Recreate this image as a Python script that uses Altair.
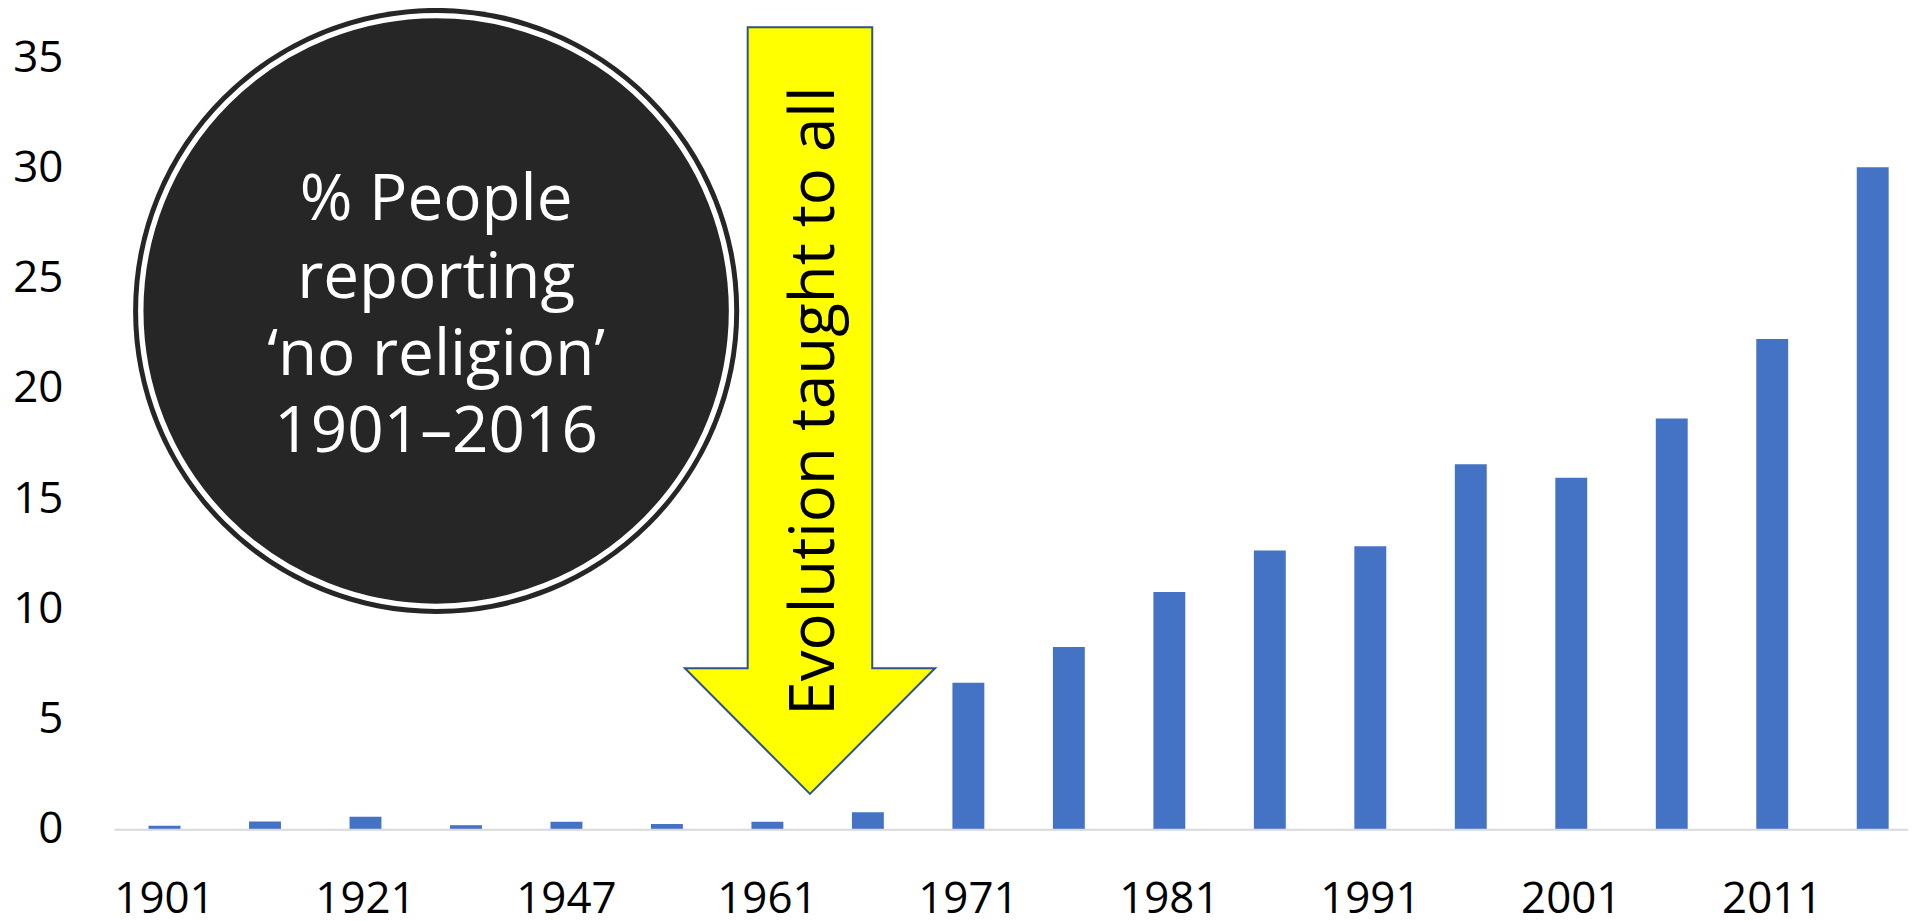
import altair as alt
import pandas as pd

# ---- data ----
years = ["1901", "1911", "1921", "1933", "1947", "1954", "1961", "1966", "1971",
         "1976", "1981", "1986", "1991", "1996", "2001", "2006", "2011", "2016"]
values = [0.18, 0.38, 0.59, 0.21, 0.37, 0.26, 0.37, 0.80, 6.67,
          8.29, 10.79, 12.67, 12.86, 16.58, 15.97, 18.66, 22.27, 30.06]
tick_years = ["1901", "1921", "1947", "1961", "1971", "1981", "1991", "2001", "2011"]
y_ticks = [0, 5, 10, 15, 20, 25, 30, 35]
title_lines = ["% People", "reporting", "\u2018no religion\u2019", "1901\u20132016"]
arrow_label = "Evolution taught to all"

W, H = 1791, 774
FONT = "Open Sans"

df = pd.DataFrame({"year": years, "pct": values})
one = pd.DataFrame({"k": [0]})

x_enc = alt.X(
    "year:N", sort=years,
    scale=alt.Scale(paddingInner=0.6825, paddingOuter=0.2253, align=0.749),
    axis=alt.Axis(values=tick_years, labelAngle=0, labelFontSize=44, labelFont=FONT,
                  labelColor="black", labelPadding=48, ticks=False, tickSize=0,
                  domain=False, grid=False, title=None),
)
y_enc = alt.Y(
    "pct:Q",
    scale=alt.Scale(domain=[0, 35], nice=False, zero=True),
    axis=alt.Axis(values=y_ticks, labelFontSize=44, labelFont=FONT, labelColor="black",
                  labelPadding=52, ticks=False, tickSize=0, domain=False, grid=False,
                  title=None),
)

bars = alt.Chart(df).mark_bar(color="#4472C4").encode(x=x_enc, y=y_enc)

baseline = alt.Chart(one).mark_rule(color="#D9D9D9", strokeWidth=2).encode(
    y=alt.datum(0), x=alt.value(0), x2=alt.value(W + 8)
)

# annotation: dark circle badge
circle = alt.Chart(one).mark_point(
    shape="circle", size=608 ** 2, filled=True, fill="#262626", strokeWidth=0, opacity=1
).encode(x=alt.value(322.5), y=alt.value(253.5))

ring = alt.Chart(one).mark_point(
    shape="circle", size=(2 * 296.3) ** 2, filled=False, stroke="white",
    strokeWidth=5.4, opacity=1
).encode(x=alt.value(322.5), y=alt.value(253.5))

badge_text = alt.Chart(one).mark_text(
    text=title_lines, font=FONT, fontSize=64, color="white", align="center",
    baseline="alphabetic", lineHeight=77.5
).encode(x=alt.value(322.5), y=alt.value(162.6))

# annotation: yellow down arrow
ARROW_PATH = ("M -0.1625 -1 L 0.1625 -1 L 0.1625 0.672 L 0.3264 0.672 "
              "L 0 1 L -0.3264 0.672 L -0.1625 0.672 Z")
arrow = alt.Chart(one).mark_point(
    shape=ARROW_PATH, size=769 ** 2, filled=True, fill="#FFFF00", stroke="#2F528F",
    strokeWidth=2, opacity=1
).encode(x=alt.value(697.5), y=alt.value(353.5))

arrow_text = alt.Chart(one).mark_text(
    text=arrow_label, angle=270, font=FONT, fontSize=62, color="black",
    align="center", baseline="alphabetic"
).encode(x=alt.value(721.6), y=alt.value(343.9))

chart = alt.layer(
    bars, baseline, circle, ring, badge_text, arrow, arrow_text
).properties(
    width=W, height=H,
    autosize=alt.AutoSizeParams(type="none"),
    padding={"left": 107, "top": 49, "right": 8, "bottom": 82},
    background="white",
).configure_view(stroke=None)

chart.save("out.html", embed_options={"renderer": "svg", "actions": False})
